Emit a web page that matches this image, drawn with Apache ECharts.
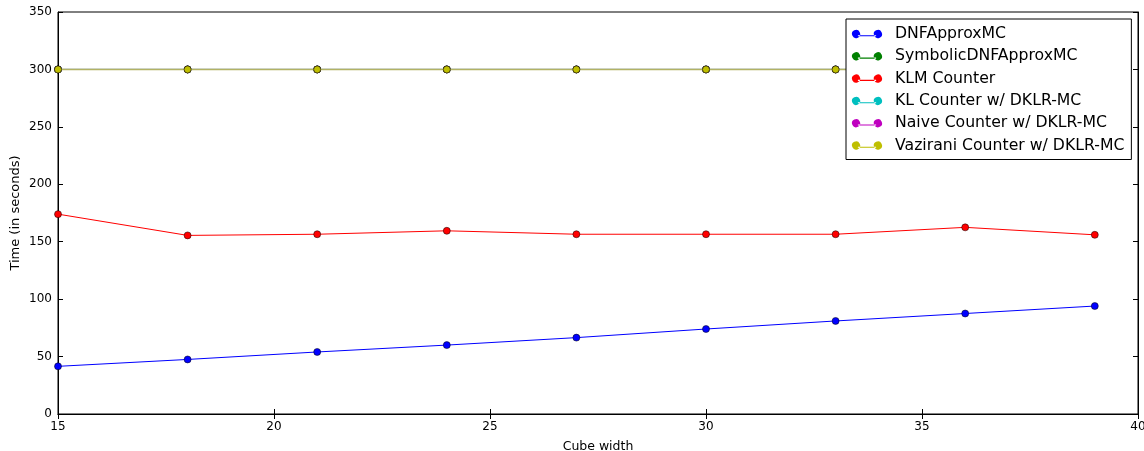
<!DOCTYPE html>
<html>
<head>
<meta charset="utf-8">
<script src="https://cdn.jsdelivr.net/npm/echarts@6/dist/echarts.min.js"></script>
<style>
  html, body { margin: 0; padding: 0; background: #fff; }
  #main { width: 1144px; height: 451px; }
</style>
</head>
<body>
<div id="main"></div>
<script>
// cube widths (x axis)
var cubeWidth = [15, 18, 21, 24, 27, 30, 33, 36, 39];

// timings in seconds
var dnfApproxMC = [41.5, 47.5, 54, 60, 66.5, 74, 81, 87.5, 94];
var symbolicDNF = [300, 300, 300, 300, 300, 300, 300, 300, 300];
var klmCounter = [174, 155.5, 156.5, 159.5, 156.5, 156.5, 156.5, 162.5, 156];
var klCounter = [300, 300, 300, 300, 300, 300, 300, 300, 300];
var naiveCounter = [300, 300, 300, 300, 300, 300, 300, 300, 300];
var vaziraniCounter = [300, 300, 300, 300, 300, 300, 300, 300, 300];

var seriesNames = ['DNFApproxMC', 'SymbolicDNFApproxMC', 'KLM Counter',
  'KL Counter w/ DKLR-MC', 'Naive Counter w/ DKLR-MC', 'Vazirani Counter w/ DKLR-MC'];
var seriesColors = ['#0000ff', '#008000', '#ff0000', '#00bfbf', '#bf00bf', '#bfbf00'];
var seriesValues = [dnfApproxMC, symbolicDNF, klmCounter, klCounter, naiveCounter, vaziraniCounter];

var font = 'DejaVu Sans';

// 图例里的线加两个圆点，仿 matplotlib
var legendIcon = 'path://M0,4A4,4 0 1,0 8,0A4,4 0 1,0 0,4Z' +
  'M6,3.4L26,3.4L26,4.6L6,4.6Z' +
  'M24,4A4,4 0 1,0 32,0A4,4 0 1,0 24,4Z';

function pairs(ys) {
  var out = [];
  for (var i = 0; i < cubeWidth.length; i++) {
    out.push([cubeWidth[i], ys[i]]);
  }
  return out;
}

var series = [];
for (var i = 0; i < seriesNames.length; i++) {
  series.push({
    name: seriesNames[i],
    type: 'line',
    data: pairs(seriesValues[i]),
    symbol: 'circle',
    symbolSize: 7,
    showSymbol: true,
    animation: false,
    // 300 那条线是几条叠在一起的，颜色偏灰
    lineStyle: { color: i === 5 ? '#b2b264' : seriesColors[i], width: i === 5 ? 1.5 : 1 },
    itemStyle: { color: seriesColors[i], borderColor: '#000', borderWidth: 0.5 },
    z: 2 + i
  });
}

var chart = echarts.init(document.getElementById('main'));

var option = {
  backgroundColor: '#fff',
  animation: false,
  grid: {
    left: 58, right: 6, top: 12, bottom: 37,
    outerBoundsMode: 'none',
    containLabel: false,
    show: true, borderColor: '#000', borderWidth: 1
  },
  legend: {
    orient: 'vertical',
    left: 846,
    top: 19,
    z: 20,
    padding: [7, 7, 6, 6],
    itemGap: 6.3,
    itemWidth: 30,
    itemHeight: 9,
    icon: legendIcon,
    itemStyle: { borderWidth: 0 },
    backgroundColor: '#fff',
    borderColor: '#000',
    borderWidth: 1,
    textStyle: { fontFamily: font, fontSize: 15.7, color: '#000', padding: [0, 0, 0, 8] },
    data: seriesNames
  },
  xAxis: [{
    type: 'value',
    min: 15, max: 40, interval: 5,
    name: 'Cube width',
    nameLocation: 'middle',
    nameGap: 26,
    nameMoveOverlap: false,
    nameTextStyle: { fontFamily: font, fontSize: 12.5, color: '#000' },
    axisLine: { show: true, lineStyle: { color: '#000' } },
    axisTick: { inside: true, length: 5, lineStyle: { color: '#000' } },
    axisLabel: { fontFamily: font, fontSize: 12, color: '#000', margin: 7 },
    splitLine: { show: false }
  }, {
    type: 'value',
    position: 'top',
    min: 15, max: 40, interval: 5,
    axisLine: { show: true, lineStyle: { color: '#000' } },
    axisTick: { inside: true, length: 5, lineStyle: { color: '#000' } },
    axisLabel: { show: false },
    splitLine: { show: false }
  }],
  yAxis: [{
    type: 'value',
    min: 0, max: 350, interval: 50,
    name: 'Time (in seconds)',
    nameLocation: 'middle',
    nameGap: 36,
    nameMoveOverlap: false,
    nameTextStyle: { fontFamily: font, fontSize: 13, color: '#000' },
    axisLine: { show: true, lineStyle: { color: '#000' } },
    axisTick: { inside: true, length: 5, lineStyle: { color: '#000' } },
    axisLabel: { fontFamily: font, fontSize: 12, color: '#000', margin: 6 },
    splitLine: { show: false }
  }, {
    type: 'value',
    position: 'right',
    min: 0, max: 350, interval: 50,
    axisLine: { show: true, lineStyle: { color: '#000' } },
    axisTick: { inside: true, length: 5, lineStyle: { color: '#000' } },
    axisLabel: { show: false },
    splitLine: { show: false }
  }],
  series: series
};

chart.setOption(option);
</script>
</body>
</html>
